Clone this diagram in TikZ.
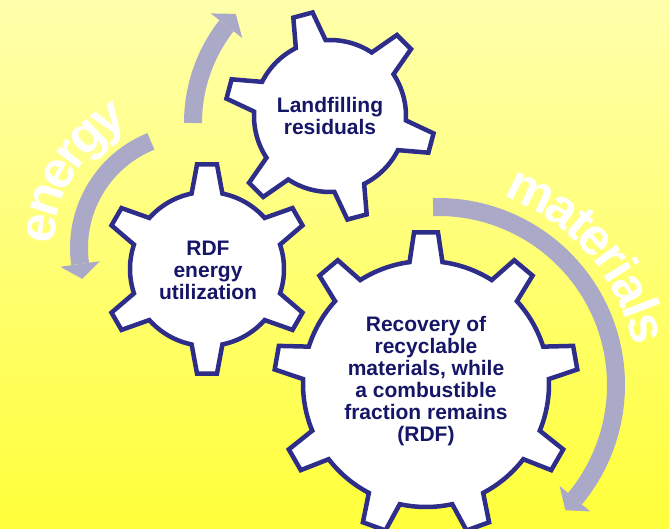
\documentclass[tikz,border=0pt]{standalone}
\usepackage{fontspec}
\setmainfont{Liberation Sans}
\usetikzlibrary{calc}

\definecolor{bgtop}{RGB}{255,255,172}
\definecolor{bgbottom}{RGB}{255,255,58}
\definecolor{gearblue}{RGB}{46,46,138}
\definecolor{labelblue}{RGB}{22,22,105}
\definecolor{arrowgrey}{RGB}{170,170,200}

% gear outline: #1 centre, #2 teeth, #3 phase, #4 tip radius, #5 root radius,
% #6 half width of a tooth tip, #7 half width of a tooth base
\newcommand{\gearshape}[7]{%
  \pgfmathsetmacro\gstep{360/#2}%
  \pgfmathsetmacro\gtip{deg(#6/#4)}%
  \pgfmathsetmacro\gbase{deg(#7/#5)}%
  \pgfmathtruncatemacro\glast{#2-1}%
  \begin{scope}[shift={(#1)}]
    \draw[gearline] (#3-\gbase:#5)
      \foreach \k in {0,...,\glast}{
        -- (#3+\k*\gstep-\gtip:#4) -- (#3+\k*\gstep+\gtip:#4)
        -- (#3+\k*\gstep+\gbase:#5)
        arc[start angle=#3+\k*\gstep+\gbase, end angle=#3+\k*\gstep+\gstep-\gbase, radius=#5]
      } -- cycle;
  \end{scope}}

% curved arrow: #1 centre, #2 radius, #3 start angle, #4 end angle, #5 tangent turn (+90 or -90)
\newcommand{\arcarrow}[5]{%
  \draw[arrowshaft] ($(#1)+(#3:#2)$) arc[start angle=#3, end angle=#4, radius=#2];
  \fill[arrowgrey] ($(#1)+(#4:#2-20)$) -- ($(#1)+(#4:#2+20)$)
    -- ($(#1)+(#4:#2)+(#4#5:15)$) -- cycle;}

\begin{document}
\begin{tikzpicture}[x=1pt,y=-1pt,
  gearline/.style={draw=gearblue, fill=white, line width=4.5pt, line join=miter},
  arrowshaft/.style={draw=arrowgrey, line width=18pt},
  gearlabel/.style={font=\fontsize{21}{22}\selectfont\bfseries, text=labelblue,
    align=center, inner sep=0pt},
  bigletter/.style={font=\fontsize{52}{52}\selectfont\bfseries, text=white,
    anchor=base, inner sep=0pt}]

  \useasboundingbox (0,0) rectangle (669,529);
  \shade[top color=bgtop, bottom color=bgbottom] (0,0) rectangle (669,529);

  % gear centres and arrow centres
  \coordinate (gtop) at (330,116);
  \coordinate (gleft) at (207,269);
  \coordinate (gbig) at (426,384);
  \coordinate (atop) at (351,123);
  \coordinate (aleft) at (194,248);
  \coordinate (aright) at (438,385);

  % circulating arrows
  \arcarrow{atop}{158}{180}{218}{+90}
  \arcarrow{aleft}{115}{248}{172}{-90}
  \arcarrow{aright}{178}{-91.6}{39.7}{+90}

  % arched words, one letter at a time: letter / angle on the arc / tilt
  \foreach \ch/\ang/\tilt [count=\i] in
    {e/187.5/82.5, n/198/72, e/208.5/61.5, r/217/53, g/226/44, y/236.5/33.5}
    \node[bigletter, rotate=\tilt] (energy-\i) at ($(aleft)+(\ang:140)$) {\ch};
  \foreach \ch/\ang/\tilt [count=\i] in
    {m/-64.2/-25.8, a/-54.6/-35.4, t/-48.6/-41.4, e/-42.7/-47.3, r/-36.4/-53.6,
     i/-32/-58, a/-26.4/-63.6, l/-20.9/-69.1, s/-15.4/-74.6}
    \node[bigletter, rotate=\tilt] (materials-\i) at ($(aright)+(\ang:199)$) {\ch};

  % gears
  \gearshape{gtop}{6}{15}{105}{76}{10}{15.5}
  \gearshape{gleft}{6}{30}{105}{77}{10}{15.5}
  \gearshape{gbig}{9}{-90}{152}{123}{12}{16.5}

  \node[gearlabel] (landfill) at (330,116) {Landfilling\\residuals};
  \node[gearlabel] (rdf) at (208,270) {RDF\\energy\\utilization};
  \node[gearlabel] (recovery) at (426,381) {Recovery of\\recyclable\\materials, while\\a combustible\\fraction remains\\(RDF)};
\end{tikzpicture}
\end{document}
